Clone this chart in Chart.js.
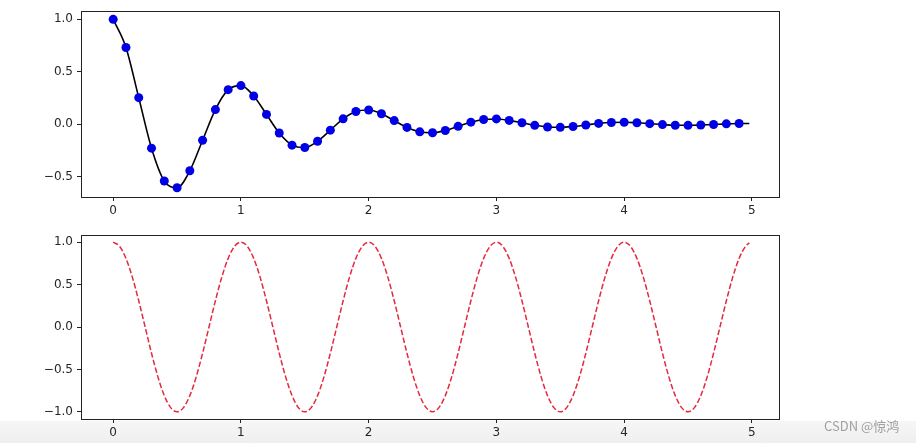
<!DOCTYPE html>
<html>
<head>
<meta charset="utf-8">
<script src="https://cdn.jsdelivr.net/npm/chart.js@4/dist/chart.umd.min.js"></script>
<style>
  html, body { margin: 0; padding: 0; background: #fff; }
  #wrap { position: relative; width: 916px; height: 443px; overflow: hidden; background: #fff; }
  #band { position: absolute; left: 0; top: 421px; width: 916px; height: 22px;
          background: linear-gradient(#f6f6f6, #efefef); }
  #c1 { position: absolute; left: 0; top: 0; }
  #c2 { position: absolute; left: 0; top: 222px; }
  #wm { position: absolute; left: 824px; top: 416px; font: 13px "Noto Sans CJK SC", "DejaVu Sans", sans-serif; color: #a0a0a0; }
</style>
</head>
<body>
<div id="wrap">
  <div id="band"></div>
  <canvas id="c1" width="916" height="222"></canvas>
  <canvas id="c2" width="916" height="221"></canvas>
  <div id="wm">CSDN @惊鸿</div>
</div>
<script>
// ---- data ----
const xTicks = [0, 1, 2, 3, 4, 5];
const yTicksTop = [-0.5, 0.0, 0.5, 1.0];
const yTicksBottom = [-1.0, -0.5, 0.0, 0.5, 1.0];

// sample times of the blue markers (0.0 .. 4.9)
const pointT = [0.0,0.1,0.2,0.3,0.4,0.5,0.6,0.7,0.8,0.9,
                1.0,1.1,1.2,1.3,1.4,1.5,1.6,1.7,1.8,1.9,
                2.0,2.1,2.2,2.3,2.4,2.5,2.6,2.7,2.8,2.9,
                3.0,3.1,3.2,3.3,3.4,3.5,3.6,3.7,3.8,3.9,
                4.0,4.1,4.2,4.3,4.4,4.5,4.6,4.7,4.8,4.9];
// damped oscillation values at the markers
const pointY = [1.000,0.732,0.253,-0.229,-0.542,-0.607,-0.444,-0.153,0.139,0.329,
                0.368,0.269,0.093,-0.084,-0.200,-0.223,-0.163,-0.057,0.051,0.121,
                0.135,0.099,0.034,-0.031,-0.073,-0.082,-0.060,-0.021,0.019,0.045,
                0.050,0.036,0.013,-0.011,-0.027,-0.030,-0.022,-0.008,0.007,0.016,
                0.018,0.013,0.005,-0.004,-0.010,-0.011,-0.008,-0.003,0.003,0.006];
// black curve: same samples, extended to the last time 4.98
const curveEndT = 4.98;
const curveEndY = 0.007;

// red dashed wave, sampled every 0.05 from 0 to 4.95 plus end 4.98
const waveT = [0.00,0.05,0.10,0.15,0.20,0.25,0.30,0.35,0.40,0.45,
               0.50,0.55,0.60,0.65,0.70,0.75,0.80,0.85,0.90,0.95,
               1.00,1.05,1.10,1.15,1.20,1.25,1.30,1.35,1.40,1.45,
               1.50,1.55,1.60,1.65,1.70,1.75,1.80,1.85,1.90,1.95,
               2.00,2.05,2.10,2.15,2.20,2.25,2.30,2.35,2.40,2.45,
               2.50,2.55,2.60,2.65,2.70,2.75,2.80,2.85,2.90,2.95,
               3.00,3.05,3.10,3.15,3.20,3.25,3.30,3.35,3.40,3.45,
               3.50,3.55,3.60,3.65,3.70,3.75,3.80,3.85,3.90,3.95,
               4.00,4.05,4.10,4.15,4.20,4.25,4.30,4.35,4.40,4.45,
               4.50,4.55,4.60,4.65,4.70,4.75,4.80,4.85,4.90,4.95,4.98];
const waveY = [1,0.951,0.809,0.588,0.309,0,-0.309,-0.588,-0.809,-0.951,
               -1,-0.951,-0.809,-0.588,-0.309,0,0.309,0.588,0.809,0.951,
               1,0.951,0.809,0.588,0.309,0,-0.309,-0.588,-0.809,-0.951,
               -1,-0.951,-0.809,-0.588,-0.309,0,0.309,0.588,0.809,0.951,
               1,0.951,0.809,0.588,0.309,0,-0.309,-0.588,-0.809,-0.951,
               -1,-0.951,-0.809,-0.588,-0.309,0,0.309,0.588,0.809,0.951,
               1,0.951,0.809,0.588,0.309,0,-0.309,-0.588,-0.809,-0.951,
               -1,-0.951,-0.809,-0.588,-0.309,0,0.309,0.588,0.809,0.951,
               1,0.951,0.809,0.588,0.309,0,-0.309,-0.588,-0.809,-0.951,
               -1,-0.951,-0.809,-0.588,-0.309,0,0.309,0.588,0.809,0.951,0.992];

// ---- drawing ----
const FONT = { family: '"DejaVu Sans", sans-serif', size: 12 };
const TEXT = '#262626';

const boxPlugin = {
  id: 'box',
  afterDraw(chart) {
    const a = chart.chartArea, ctx = chart.ctx;
    ctx.save();
    ctx.strokeStyle = '#222';
    ctx.lineWidth = 1;
    ctx.strokeRect(Math.round(a.left) + 0.5, Math.round(a.top) + 0.5,
                   Math.round(a.right - a.left) - 1, Math.round(a.bottom - a.top));
    ctx.restore();
  }
};

function fmt(v) {
  return v.toFixed(1).replace('-', '\u2212');
}

function makeScales(yMin, yMax, yTicks, xAxisHeight) {
  return {
    x: {
      type: 'linear', min: -0.252, max: 5.22,
      afterBuildTicks(s) { s.ticks = xTicks.map(v => ({ value: v })); },
      afterFit(s) { s.height = xAxisHeight; },
      border: { display: false },
      grid: { display: true, drawOnChartArea: false, drawTicks: true, tickLength: 4, tickColor: '#222', lineWidth: 1 },
      ticks: { font: FONT, color: TEXT, padding: 3, maxRotation: 0, autoSkip: false, callback: v => String(v) }
    },
    y: {
      type: 'linear', min: yMin, max: yMax,
      afterBuildTicks(s) { s.ticks = yTicks.map(v => ({ value: v })); },
      afterFit(s) { s.width = 81; },
      border: { display: false },
      grid: { display: true, drawOnChartArea: false, drawTicks: true, tickLength: 4, tickColor: '#222', lineWidth: 1 },
      ticks: { font: FONT, color: TEXT, padding: 4, autoSkip: false, callback: v => fmt(v) }
    }
  };
}

const commonOpts = {
  responsive: false, animation: false, devicePixelRatio: 1,
  plugins: { legend: { display: false }, tooltip: { enabled: false } },
  events: []
};

const curveData = pointT.map((t, i) => ({ x: t, y: pointY[i] }));
curveData.push({ x: curveEndT, y: curveEndY });

new Chart(document.getElementById('c1'), {
  type: 'scatter',
  data: {
    datasets: [
      {
        type: 'line',
        data: curveData,
        borderColor: '#000', borderWidth: 1.6, pointRadius: 0,
        cubicInterpolationMode: 'monotone', fill: false, order: 2
      },
      {
        data: pointT.map((t, i) => ({ x: t, y: pointY[i] })),
        backgroundColor: '#0000e6', borderColor: '#0000e6', pointRadius: 4.5, borderWidth: 0, order: 1
      }
    ]
  },
  options: Object.assign({}, commonOpts, {
    layout: { padding: { left: 0, right: 136, top: 11, bottom: 0 } },
    scales: makeScales(-0.695, 1.078, yTicksTop, 25)
  }),
  plugins: [boxPlugin]
});

new Chart(document.getElementById('c2'), {
  type: 'line',
  data: {
    datasets: [
      {
        data: waveT.map((t, i) => ({ x: t, y: waveY[i] })),
        borderColor: '#e5283f', borderWidth: 1.5, borderDash: [5.5, 2.4],
        pointRadius: 0, cubicInterpolationMode: 'monotone', fill: false
      }
    ]
  },
  options: Object.assign({}, commonOpts, {
    layout: { padding: { left: 0, right: 136, top: 13, bottom: 0 } },
    scales: makeScales(-1.085, 1.085, yTicksBottom, 24)
  }),
  plugins: [boxPlugin]
});
</script>
</body>
</html>
